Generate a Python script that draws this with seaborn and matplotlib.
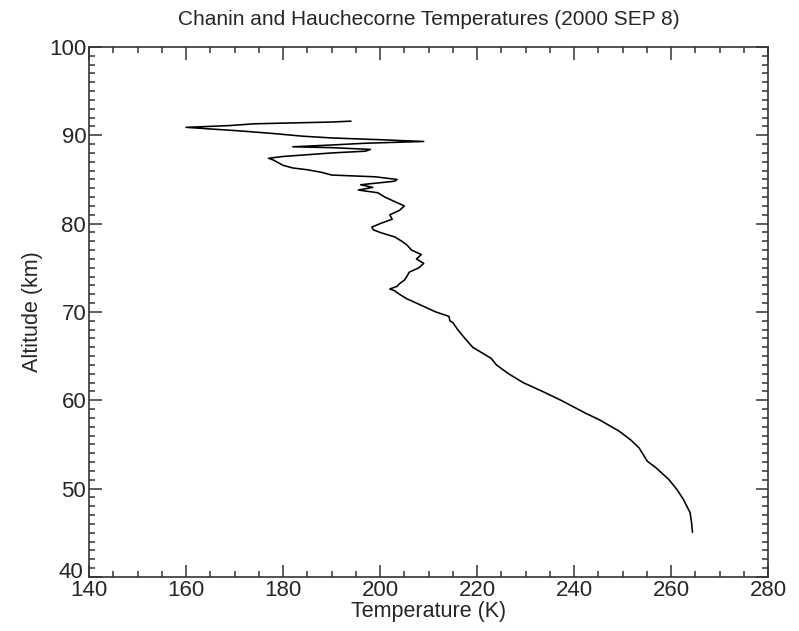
import matplotlib
matplotlib.use("Agg")
import matplotlib.pyplot as plt
import matplotlib.transforms as mtransforms
import seaborn as sns
import pandas as pd
from matplotlib.ticker import MultipleLocator

altitude = [45.05, 46.2, 47.3, 48.8, 49.9, 51.05, 52.4, 53.1, 54.6, 55.5,
            56.5, 57.8, 58.5, 60.0, 61.0, 62.0, 63.0, 64.0, 64.75, 66.0,
            67.0, 68.0, 68.8, 69.0, 69.5, 70.0, 70.5, 71.0, 71.5, 72.0,
            72.4, 72.6, 72.9, 73.2, 73.6, 74.0, 74.5, 75.0, 75.5, 76.0,
            76.5, 77.0, 77.6, 78.0, 78.5, 79.0, 79.3, 79.6, 80.0, 80.5,
            81.0, 81.5, 82.0, 82.5, 83.0, 83.5, 83.8, 84.1, 84.4, 84.6,
            84.8, 85.0, 85.3, 85.5, 85.8, 86.1, 86.3, 86.6, 86.9, 87.2,
            87.4, 87.6, 87.8, 88.0, 88.2, 88.4, 88.6, 88.7, 88.9, 89.1,
            89.3, 89.5, 89.7, 89.9, 90.2, 90.5, 90.9, 91.1, 91.3, 91.5,
            91.6]
temperature = [264.4, 264.2, 263.9, 262.5, 261.2, 259.5, 256.8, 255.1, 253.4, 251.7,
               249.3, 245.2, 242.5, 237.3, 233.5, 229.5, 226.5, 224.0, 222.9, 219.1,
               217.5, 216.0, 215.0, 214.4, 214.2, 211.5, 209.5, 207.5, 205.5, 204.0,
               203.0, 202.0, 203.5, 204.0, 205.0, 205.5, 206.0, 208.0, 209.0, 207.5,
               208.5, 206.5, 205.5, 204.5, 203.0, 200.0, 198.6, 198.3, 200.0, 202.5,
               202.0, 204.0, 205.0, 203.0, 201.0, 199.5, 195.5, 198.5, 196.0, 199.5,
               203.0, 203.5, 199.0, 190.0, 188.0, 185.0, 182.0, 180.0, 179.0, 178.0,
               177.0, 180.0, 185.0, 190.0, 197.0, 198.0, 190.0, 182.0, 190.0, 197.0,
               209.0, 200.0, 190.0, 184.0, 178.0, 171.0, 160.0, 169.0, 174.0, 190.0,
               194.0]

df = pd.DataFrame({"Temperature": temperature, "Altitude": altitude})

sns.set_style("white")
plt.rcParams["font.family"] = ["Liberation Sans", "DejaVu Sans"]

fig = plt.figure(figsize=(7.99, 6.31), dpi=100)
ax = fig.add_axes([0.1114, 0.0856, 0.850, 0.840])

sns.lineplot(data=df, x="Temperature", y="Altitude", sort=False,
             estimator=None, color="black", linewidth=1.15, ax=ax)

ax.set_xlim(140, 280)
ax.set_ylim(40, 100)
ax.xaxis.set_major_locator(MultipleLocator(20))
ax.xaxis.set_minor_locator(MultipleLocator(5))
ax.yaxis.set_major_locator(MultipleLocator(10))
ax.yaxis.set_minor_locator(MultipleLocator(1))
ax.tick_params(which="both", direction="in", top=True, right=True,
               bottom=True, left=True, labelsize=16, color="#333333", width=1.1)
ax.tick_params(which="major", length=9, pad=2)
ax.tick_params(which="minor", length=4.5)
for s in ax.spines.values():
    s.set_linewidth(1.2)
    s.set_color("#333333")

ax.set_xlabel("Temperature (K)", fontsize=15.5, labelpad=0)
ax.set_ylabel("Altitude (km)", fontsize=15.5, labelpad=4)
ax.set_title("Chanin and Hauchecorne Temperatures (2000 SEP 8)", fontsize=15, pad=16)

fig.canvas.draw()
# nudge the "40" label slightly up-left so it just clears the "140" label at the corner
for tick in ax.yaxis.get_major_ticks():
    if abs(tick.get_loc() - 40) < 1e-6:
        lbl = tick.label1
        lbl.set_transform(lbl.get_transform() +
                          mtransforms.ScaledTranslation(-2 / 72, 5 / 72, fig.dpi_scale_trans))

fig.savefig("out.png", dpi=100)
